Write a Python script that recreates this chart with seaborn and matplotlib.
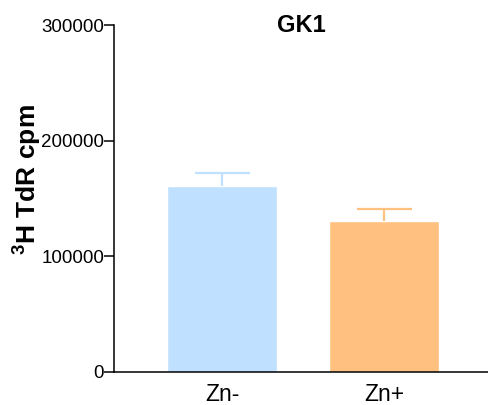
import matplotlib
matplotlib.use("Agg")
import matplotlib.pyplot as plt
import seaborn as sns
import pandas as pd

# Thymidine incorporation in GK1 cells, with and without zinc
groups = ["Zn-", "Zn+"]
mean_cpm = [160900, 130600]
sem_cpm = [11500, 10400]
bar_colors = ["#c0e0ff", "#ffc080"]
y_ticks = [0, 100000, 200000, 300000]

sns.set_theme(style="ticks")
plt.rcParams["font.family"] = ["Liberation Sans", "DejaVu Sans"]
plt.rcParams["text.color"] = "black"
plt.rcParams["axes.labelcolor"] = "black"
plt.rcParams["xtick.color"] = "black"
plt.rcParams["ytick.color"] = "black"
plt.rcParams["mathtext.fontset"] = "custom"
plt.rcParams["mathtext.rm"] = "Liberation Sans"
plt.rcParams["mathtext.bf"] = "Liberation Sans:bold"

df = pd.DataFrame({"group": groups, "cpm": mean_cpm})

fig = plt.figure(figsize=(4.89, 4.05), dpi=100)
ax = fig.add_axes([0.233, 0.0815, 0.765, 0.8565])

sns.barplot(data=df, x="group", y="cpm", hue="group", palette=bar_colors,
            width=0.68, errorbar=None, legend=False, ax=ax, saturation=1)

# upper-only error bars in the bar colour
for i, (m, e, c) in enumerate(zip(mean_cpm, sem_cpm, bar_colors)):
    ax.vlines(i, m, m + e, colors=c, linewidth=1.6, zorder=1)
    ax.hlines(m + e, i - 0.17, i + 0.17, colors=c, linewidth=1.6, zorder=1)

ax.set_xlim(-0.667, 1.64)
ax.set_ylim(0, 300000)
ax.set_yticks(y_ticks)
ax.set_yticklabels([str(t) for t in y_ticks])
ax.set_xlabel("")
ax.set_ylabel(r"$^{\mathbf{3}}$H TdR cpm", fontsize=19, fontweight="bold")
ax.yaxis.set_label_coords(-0.19, 0.555)

ax.tick_params(axis="y", length=7, width=1.1, pad=0, labelsize=13.5)
ax.tick_params(axis="x", length=0, pad=8, labelsize=16.5)
for s in ["top", "right"]:
    ax.spines[s].set_visible(False)
for s in ["left", "bottom"]:
    ax.spines[s].set_linewidth(1.1)
    ax.spines[s].set_color("black")

ax.text(0.5, 1.0, "GK1", transform=ax.transAxes, ha="center", va="center",
        fontsize=17, fontweight="bold")

fig.savefig("out.png", dpi=100)
